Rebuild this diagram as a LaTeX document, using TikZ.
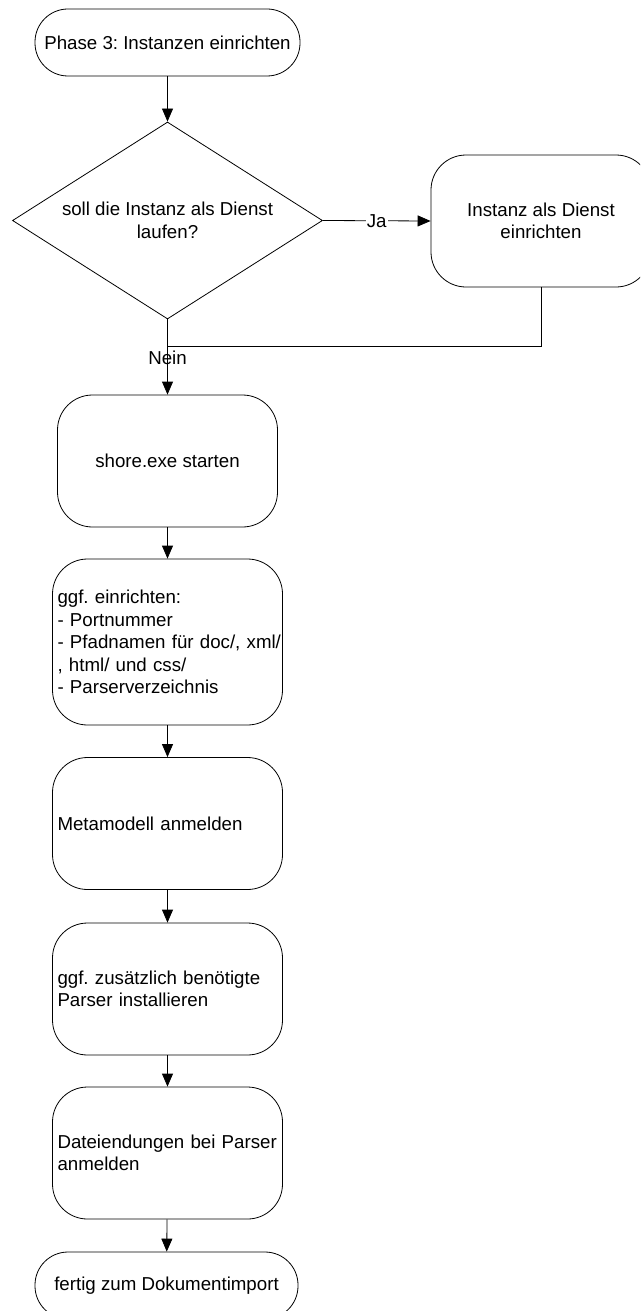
\documentclass[tikz,border=0pt]{standalone}
\usepackage{fontspec}
\setmainfont{Liberation Sans}
\usetikzlibrary{shapes.geometric,arrows.meta}

\begin{document}
\frenchspacing
\begin{tikzpicture}[
    x=1pt, y=-1pt,
    every node/.style={font=\fontsize{18.7}{22.5}\selectfont},
    base/.style={draw=black, line width=0.8pt, fill=white},
    terminal/.style={base, rectangle, rounded corners=33pt, inner sep=0pt,
        minimum height=67pt},
    stepbox/.style={base, rectangle, rounded corners=35pt, inner sep=0pt,
        minimum width=220pt, minimum height=132pt, align=center},
    listbox/.style={base, rectangle, rounded corners=35pt, inner xsep=5pt,
        inner ysep=0pt, text width=220pt, minimum height=132pt, align=left},
    decision/.style={base, diamond, inner sep=0pt,
        minimum width=310pt, minimum height=197pt},
    flow/.style={draw=black, line width=0.8pt,
        -{Triangle[length=13pt, width=11pt]}},
    joint/.style={draw=black, line width=0.8pt}
]
\useasboundingbox (0,0) rectangle (640,1311);
\clip (0,0) rectangle (640,1311);

% main column
\node[terminal, minimum width=265pt] (start) at (167.5,42.5)
    {Phase 3: Instanzen einrichten};
\node[decision] (dec) at (167.5,220.5) {};
\node[align=center, inner sep=0pt] (dectext) at (dec.center)
    {soll die Instanz als Dienst\\laufen?};
\node[stepbox] (inst) at (541,221) {Instanz als Dienst\\einrichten};
\node[stepbox] (shore) at (167.5,461) {shore.exe starten};
\node[listbox, minimum height=166pt] (cfg) at (167.5,642)
    {ggf. einrichten:\\- Portnummer\\\mbox{- Pfadnamen für doc/, xml/}\\, html/ und css/\\- Parserverzeichnis};
\node[listbox] (meta) at (167.5,823.5) {Metamodell anmelden};
\node[listbox] (pars) at (167.5,989)
    {ggf. zusätzlich benötigte\\Parser installieren};
\node[listbox] (ext) at (167.5,1153) {Dateiendungen bei Parser\\anmelden};
\node[terminal, minimum width=263pt] (end) at (166.5,1285.5)
    {fertig zum Dokumentimport};

% connectors
\coordinate (merge) at (167.5,346);
\draw[flow] (start) -- (dec.north);
\draw[flow] (dec.east) -- node[fill=white, inner sep=1pt] (ja) {Ja} (inst.west);
\draw[joint] (inst.south) |- (merge);
\draw[flow] (dec.south) -- node[pos=0.51, inner sep=0pt] (nein) {Nein} (shore.north);
\draw[flow] (shore) -- (cfg);
\draw[flow] (cfg) -- (meta);
\draw[flow] (meta) -- (pars);
\draw[flow] (pars) -- (ext);
\draw[flow] (ext) -- (end);
\end{tikzpicture}
\end{document}
